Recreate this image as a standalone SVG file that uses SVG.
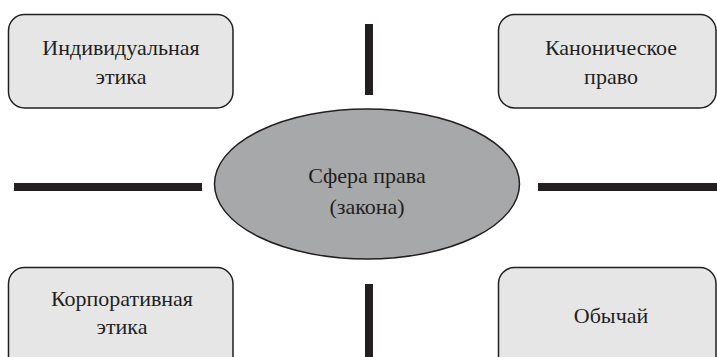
<svg xmlns="http://www.w3.org/2000/svg" width="717" height="357" viewBox="0 0 717 357">
<style>
.box{fill:#e6e6e7;stroke:#231f20;stroke-width:1.5}
.ell{fill:#a7a8aa;stroke:#231f20;stroke-width:1.5}
.bar{stroke:#231f20;stroke-width:8;fill:none}
.t{font-family:'Liberation Serif','DejaVu Serif',serif;font-size:22px;fill:#231f20;text-anchor:middle}
</style>
<rect width="717" height="357" fill="#ffffff"/>
<g id="connectors">
<line class="bar" x1="369" y1="24" x2="369" y2="95"/>
<line class="bar" x1="369" y1="284" x2="369" y2="357"/>
<line class="bar" x1="14" y1="187" x2="202" y2="187"/>
<line class="bar" x1="538" y1="187" x2="717" y2="187"/>
</g>
<g id="individual">
<rect class="box" x="8.5" y="14.5" width="224.5" height="93.5" rx="16"/>
<text class="t" x="121" y="55">Индивидуальная</text>
<text class="t" x="121" y="84">этика</text>
</g>
<g id="canon">
<rect class="box" x="498.5" y="14.5" width="217.5" height="93.5" rx="16"/>
<text class="t" x="611" y="55">Каноническое</text>
<text class="t" x="611" y="84">право</text>
</g>
<g id="sphere">
<ellipse class="ell" cx="367" cy="184" rx="152.5" ry="75"/>
<text class="t" x="367" y="183">Сфера права</text>
<text class="t" x="367" y="214">(закона)</text>
</g>
<g id="corporate">
<rect class="box" x="8.5" y="267.5" width="224.5" height="110" rx="16"/>
<text class="t" x="122" y="306">Корпоративная</text>
<text class="t" x="122" y="334">этика</text>
</g>
<g id="custom">
<rect class="box" x="498.5" y="267.5" width="217.5" height="110" rx="16"/>
<text class="t" x="611" y="323">Обычай</text>
</g>
</svg>
